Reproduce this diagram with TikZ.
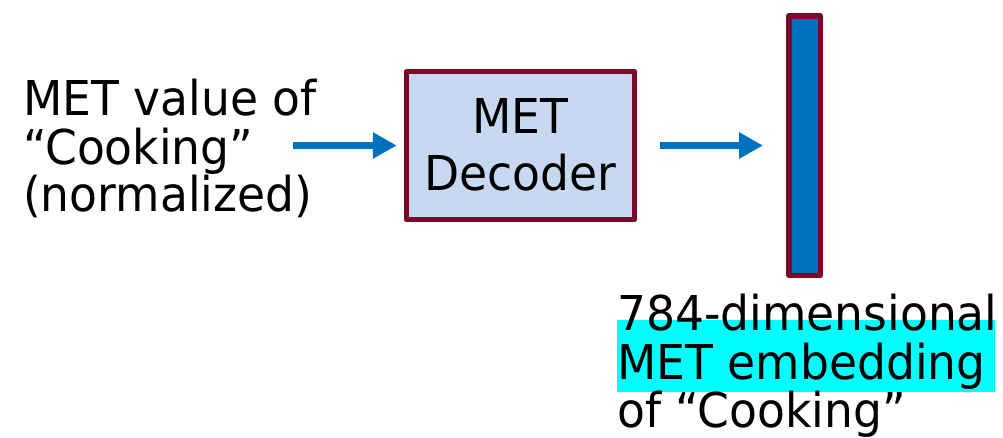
\documentclass[tikz,border=0pt]{standalone}
\usepackage{fontspec}
\setmainfont[FakeStretch=0.95]{DejaVu Sans}
\usetikzlibrary{arrows.meta}
\definecolor{frame}{HTML}{7A0A26}
\definecolor{boxfill}{HTML}{C6D9F0}
\definecolor{barblue}{HTML}{0070C0}
\definecolor{hl}{HTML}{00FFFF}
\tikzset{
  txt/.style={inner sep=0pt, font=\fontsize{48}{48}\selectfont, anchor=base west},
  ctxt/.style={inner sep=0pt, font=\fontsize{48}{48}\selectfont, anchor=base},
  flow/.style={draw=barblue, line width=7.5pt, -{Triangle[length=24pt 0 0,width=25pt 0 0]}},
}
\begin{document}
\begin{tikzpicture}[x=1pt,y=-1pt]
\useasboundingbox (0,0) rectangle (1003,437);
% input description
\node[txt] (i1) at (23,115) {MET value of};
\node[txt] (i2) at (23,164) {``Cooking''};
\node[txt] (i3) at (23,211) {(normalized)};
% decoder block
\node[draw=frame, line width=5.5pt, fill=boxfill, minimum width=228pt, minimum height=148pt,
      inner sep=0pt, line join=round] (dec) at (520.5,145.5) {};
\node[ctxt] (d1) at (520.5,133) {MET};
\node[ctxt] (d2) at (520.5,190) {Decoder};
% embedding vector
\node[draw=frame, line width=5.5pt, fill=barblue, line join=round,
      minimum width=31.5pt, minimum height=259.5pt, inner sep=0pt] (vec) at (804.5,145.5) {};
% output description
\fill[hl] (617,320) rectangle (995,392);
\node[txt] (o1) at (617,330) {784-dimensional};
\node[txt] (o2) at (617,379) {MET embedding};
\node[txt] (o3) at (617,427) {of ``Cooking''};
% arrows
\coordinate (a1) at (293,145.5);
\coordinate (a2) at (660,145.5);
\coordinate (b2) at (763,145.5);
\draw[flow, shorten >=7pt] (a1) -- (dec.west);
\draw[flow] (a2) -- (b2);
\end{tikzpicture}
\end{document}
